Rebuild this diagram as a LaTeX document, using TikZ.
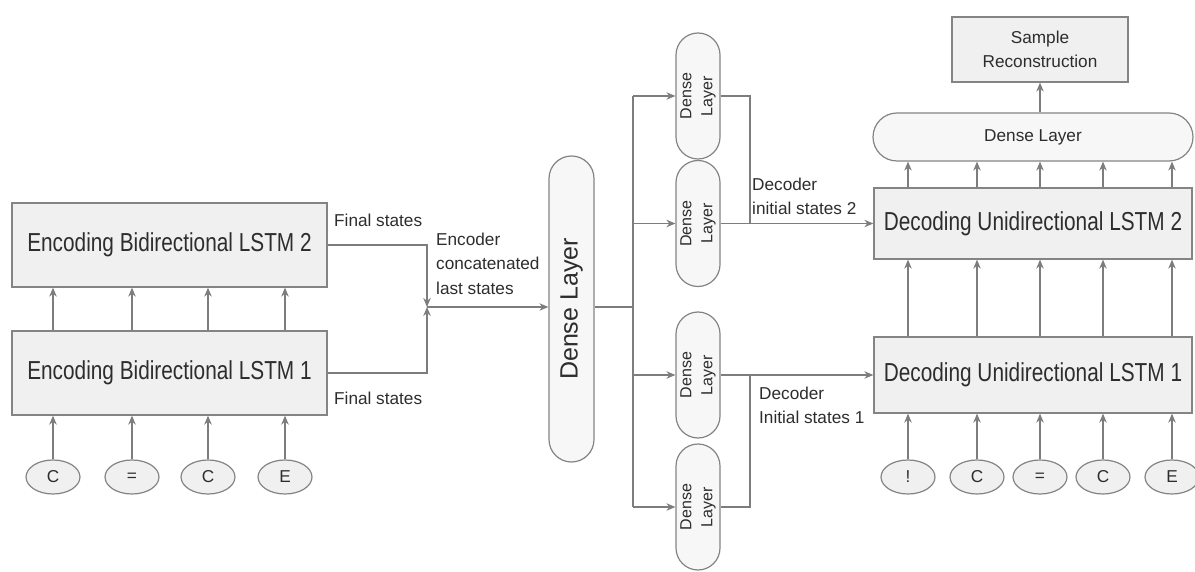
\documentclass[tikz,border=0pt]{standalone}
\usepackage{graphicx}
\usepackage{fontspec}
\setmainfont{Liberation Sans}
\usetikzlibrary{arrows.meta,shapes.geometric,calc}

\definecolor{linec}{RGB}{125,125,125}
\definecolor{edgec}{RGB}{132,132,132}
\definecolor{boxfill}{RGB}{240,240,240}
\definecolor{pillfill}{RGB}{247,247,247}
\definecolor{txt}{RGB}{45,45,45}

% condensed large label used inside the LSTM blocks
\newcommand{\blocklabel}[1]{\scalebox{0.8}[1]{#1}}

\begin{document}
\begin{tikzpicture}[x=1pt,y=-1pt,
  every node/.style={text=txt},
  lstm/.style={rectangle, draw=edgec, line width=1.3pt, fill=boxfill, inner sep=0pt,
               font=\fontsize{26}{30}\selectfont},
  smallbox/.style={rectangle, draw=edgec, line width=1.2pt, fill=boxfill, inner sep=0pt,
               align=center, font=\fontsize{17.2}{24}\selectfont},
  inp/.style={ellipse, draw=edgec, line width=1.2pt, fill=boxfill, inner sep=0pt,
              minimum width=54pt, minimum height=34pt, font=\fontsize{17.2}{20}\selectfont},
  bigpill/.style={rectangle, draw=edgec, line width=1.2pt, fill=pillfill, inner sep=0pt,
              minimum width=45pt, minimum height=306pt, rounded corners=22.5pt,
              label={[rotate=90, font=\fontsize{25}{28}\selectfont, text=txt]center:Dense Layer}},
  vpill/.style={rectangle, draw=edgec, line width=1.2pt, fill=pillfill, inner sep=0pt,
              minimum width=44pt, minimum height=126pt, rounded corners=22pt,
              label={[rotate=90, align=center, font=\fontsize{16}{21}\selectfont, text=txt]center:{Dense\\Layer}}},
  hpill/.style={rectangle, draw=edgec, line width=1.2pt, fill=pillfill, inner sep=0pt,
              minimum width=320pt, minimum height=48pt, rounded corners=24pt,
              font=\fontsize{17.2}{20}\selectfont},
  lbl/.style={inner sep=0pt, align=left, font=\fontsize{17.2}{24.5}\selectfont},
  wire/.style={draw=linec, line width=1.2pt},
  arr/.style={draw=linec, line width=1.2pt, -{Stealth[length=9pt,width=7.5pt]}}
]
\useasboundingbox (0,0) rectangle (1195,572);

% ---------------- encoder ----------------
\node[lstm, minimum width=315pt, minimum height=84pt] (enc2) at (169.5,245) {\blocklabel{Encoding Bidirectional LSTM 2}};
\node[lstm, minimum width=315pt, minimum height=84pt] (enc1) at (169.5,373) {\blocklabel{Encoding Bidirectional LSTM 1}};

\foreach \n/\x/\t in {1/53/C, 2/132/=, 3/208/C, 4/285/E} {
  \node[inp] (ei\n) at (\x,477) {\t};
  \draw[arr] (ei\n.north) -- (ei\n.north |- enc1.south);
  \draw[arr] (ei\n |- enc1.north) -- (ei\n |- enc2.south);
}

\node[lbl, anchor=west] (fs2) at (334,220) {Final states};
\node[lbl, anchor=west] (fs1) at (334,398) {Final states};

% final states merged into one vector
\coordinate (J) at (427,307);
\draw[arr] (enc2.east) -| (J);
\draw[arr] (enc1.east) -| (J);

\node[lbl, anchor=north west] (ecl) at (436,232.5) {Encoder\\concatenated\\last states};

\node[bigpill] (bd) at (571.5,309) {};
\draw[arr] (J) -- (J -| bd.west);

% ---------------- split into four dense layers ----------------
\coordinate (B) at (633,307);
\draw[wire] (J -| bd.east) -- (B);

\node[vpill] (d1) at (698,96) {};
\node[vpill] (d2) at (698,223.5) {};
\node[vpill] (d3) at (698,375) {};
\node[vpill] (d4) at (698,507) {};

\draw[wire] (B |- d1) -- (B |- d4);
\foreach \i in {1,2,3,4} {
  \draw[arr] (B |- d\i) -- (d\i.west);
}

% ---------------- decoder ----------------
\node[lstm, minimum width=318pt, minimum height=71pt] (dec2) at (1033,223.5) {\blocklabel{Decoding Unidirectional LSTM 2}};
\node[lstm, minimum width=318pt, minimum height=76pt] (dec1) at (1033,375) {\blocklabel{Decoding Unidirectional LSTM 1}};

\coordinate (M2) at (750,223.5);
\coordinate (M1) at (750,375);
\draw[wire] (d1.east) -| (M2);
\draw[wire] (d4.east) -| (M1);
\draw[arr] (d2.east) -- (dec2.west);
\draw[arr] (d3.east) -- (dec1.west);

\node[lbl, anchor=north west] (dis2) at (752,177.5) {Decoder\\initial states 2};
\node[lbl, anchor=north west] (dis1) at (759,386.5) {Decoder\\Initial states 1};

\node[hpill] (td) at (1033,137) {Dense Layer};
\node[smallbox, minimum width=176pt, minimum height=65pt] (smp) at (1040,49.5) {Sample\\Reconstruction};
\draw[arr] (td.north -| smp) -- (smp.south);

\foreach \n/\x/\t in {1/908/!, 2/977/C, 3/1040/=, 4/1103/C, 5/1172/E} {
  \node[inp] (di\n) at (\x,477) {\t};
  \draw[arr] (di\n.north) -- (di\n.north |- dec1.south);
  \draw[arr] (di\n |- dec1.north) -- (di\n |- dec2.south);
  \draw[arr] (di\n |- dec2.north) -- (di\n |- td.south);
}
\end{tikzpicture}
\end{document}
